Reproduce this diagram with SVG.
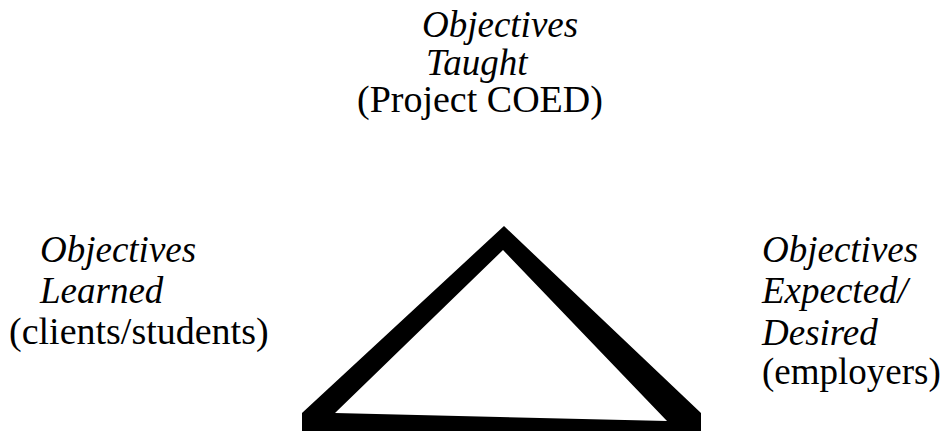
<svg xmlns="http://www.w3.org/2000/svg" width="946" height="431" viewBox="0 0 946 431">
<style>
text{font-family:"Liberation Serif","Times New Roman",serif;font-size:37px;fill:#000}
.i{font-style:italic}
.u{font-size:38px}
</style>
<rect width="946" height="431" fill="#fff"/>
<g id="taught">
<text class="i" x="422" y="37">Objectives</text>
<text class="i" x="426" y="75">Taught</text>
<text class="u" x="357" y="112">(Project COED)</text>
</g>
<g id="learned">
<text class="i" x="40" y="262">Objectives</text>
<text class="i" x="40" y="303">Learned</text>
<text class="u" x="9" y="344">(clients/students)</text>
</g>
<g id="expected">
<text class="i" x="762" y="262">Objectives</text>
<text class="i" x="762" y="303">Expected/</text>
<text class="i" x="762" y="345">Desired</text>
<text x="762" y="384">(employers)</text>
</g>
<g id="triangle">
<path fill="#000" fill-rule="evenodd" d="M504,226 L701,413 L701,431 L302,431 L302,413 Z M503,250 L335,413 L667,421 Z"/>
</g>
</svg>
